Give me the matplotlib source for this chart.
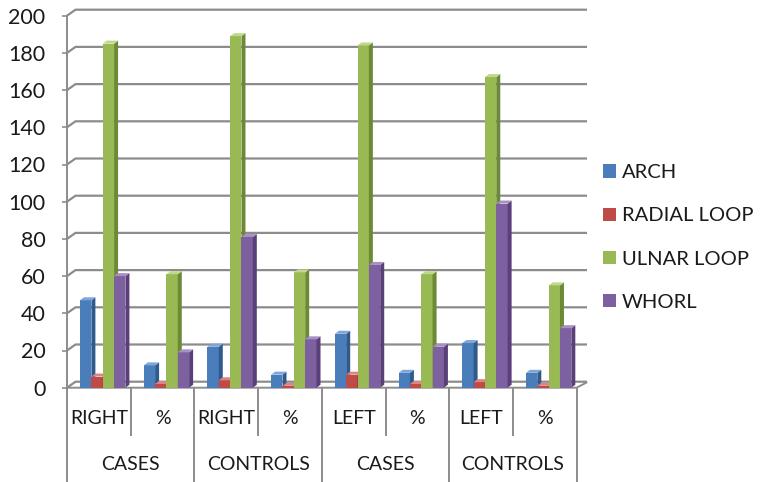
import matplotlib
matplotlib.use('Agg')
import matplotlib.pyplot as plt
from matplotlib.patches import Polygon
import numpy as np

plt.rcParams['font.family'] = ['Lato', 'DejaVu Sans']

# ---- data ----
groups = ['CASES', 'CONTROLS', 'CASES', 'CONTROLS']
subcats = ['RIGHT', '%', 'RIGHT', '%', 'LEFT', '%', 'LEFT', '%']
series = ['ARCH', 'RADIAL LOOP', 'ULNAR LOOP', 'WHORL']
arch = [47, 12, 22, 7, 29, 8, 24, 8]
radial = [6, 2, 4, 1, 7, 2, 3, 1]
ulnar = [185, 61, 189, 62, 184, 61, 167, 55]
whorl = [60, 19, 81, 26, 66, 22, 99, 32]
yticks = list(range(0, 201, 20))

front_c = ['#4a7ebb', '#be4b48', '#98b954', '#7d60a0']
side_c = ['#2f5a8e', '#8c302e', '#6c8a35', '#594079']
top_c = ['#7ea6d8', '#dc8583', '#c0d78f', '#a890c6']
grid_c = '#8c8c8c'
text_c = '#1a1a1a'

W, H = 783, 482
fig = plt.figure(figsize=(W / 100, H / 100), dpi=100)
px0, px1 = 67.0, 576.6
py0, py1 = 387.7, 15.7
ax = fig.add_axes([px0 / W, 1 - py0 / H, (px1 - px0) / W, (py0 - py1) / H])
ax.set_xlim(0, 8)
ax.set_ylim(0, 200)
ppx = (px1 - px0) / 8.0      # pixels per category
ppv = (py0 - py1) / 200.0    # pixels per value unit

DX = 8.5 / ppx
DY = 6.0 / ppv
BDX = 4.0 / ppx
BDY = 3.0 / ppv

# back wall gridlines with perspective connectors
for v in yticks:
    ax.plot([0, DX, 8 + DX + 0.03], [v, v + DY, v + DY], color=grid_c, lw=1.6,
            clip_on=False, zorder=1, solid_capstyle='butt')
# floor front edge and right edge
ax.plot([0, 8, 8 + DX * 1.15], [0, 0, DY * 0.85], color=grid_c, lw=1.4,
        clip_on=False, zorder=1)

# spines / ticks
for s in ['top', 'right', 'bottom']:
    ax.spines[s].set_visible(False)
ax.spines['left'].set_color(grid_c)
ax.spines['left'].set_linewidth(1.4)
ax.set_yticks(yticks)
ax.set_yticklabels([str(t) for t in yticks])
ax.tick_params(axis='y', length=3.6, width=1.2, color=grid_c, direction='out',
               labelsize=15.5, pad=12, labelcolor=text_c)
ax.set_xticks([])
ax.patch.set_alpha(0)

# bars
data = [arch, radial, ulnar, whorl]
w = 0.178
handles = []
for j, vals in enumerate(data):
    xs = np.arange(8) + 0.205 + j * w
    bc = ax.bar(xs, vals, width=w, align='edge', color=front_c[j], linewidth=0,
                zorder=3 + j, label=series[j])
    handles.append(bc)
    for xl, v in zip(xs, vals):
        xr = xl + w
        ax.add_patch(Polygon([(xr, 0), (xr + BDX, BDY), (xr + BDX, v + BDY), (xr, v)],
                             closed=True, color=side_c[j], lw=0, zorder=3 + j + 0.5))
        ax.add_patch(Polygon([(xl, v), (xr, v), (xr + BDX, v + BDY), (xl + BDX, v + BDY)],
                             closed=True, color=top_c[j], lw=0, zorder=3 + j + 0.5))

# category axis (two-level)
v_bottom = (py0 - H) / ppv
v_inner = (py0 - 435) / ppv
v_lab1 = (py0 - 419) / ppv
v_lab2 = (py0 - 465) / ppv
for k in range(0, 9, 2):
    ax.plot([k, k], [0, v_bottom], color=grid_c, lw=1.4, clip_on=False, zorder=1)
for k in range(1, 8, 2):
    ax.plot([k, k], [0, v_inner], color=grid_c, lw=1.4, clip_on=False, zorder=1)
for i, lab in enumerate(subcats):
    ax.text(i + 0.5, v_lab1, lab, ha='center', va='center', fontsize=14,
            color=text_c, clip_on=False)
for g, lab in enumerate(groups):
    ax.text(2 * g + 1, v_lab2, lab, ha='center', va='center', fontsize=14,
            color=text_c, clip_on=False)

# legend
fig.legend(handles, series, loc='center left',
           bbox_to_anchor=(603 / W, 1 - 237.5 / H), frameon=False, fontsize=14.5,
           handlelength=0.65, handleheight=0.65, handletextpad=0.3,
           labelspacing=1.3, borderpad=0, borderaxespad=0, labelcolor=text_c)

fig.savefig('out.png', dpi=100)
